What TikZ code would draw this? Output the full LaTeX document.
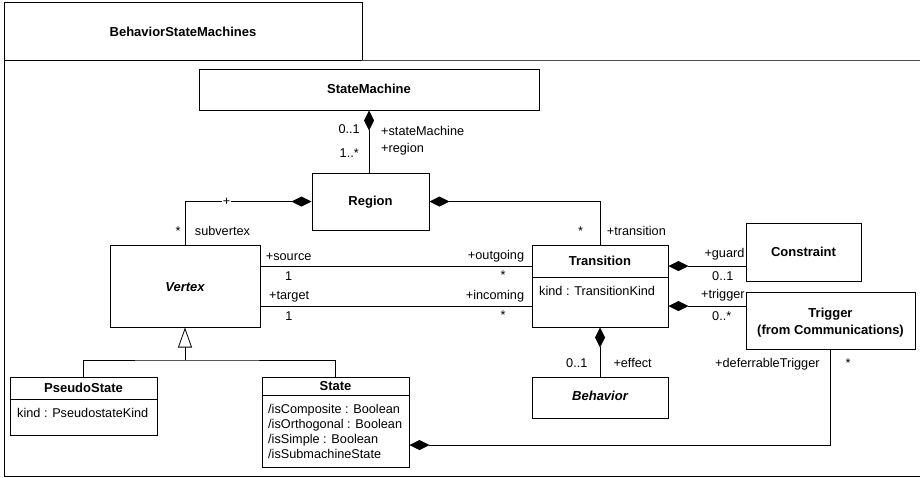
\documentclass[tikz,border=0pt]{standalone}
\usepackage{fontspec}
\setmainfont{Liberation Sans}
\usetikzlibrary{arrows.meta}

\tikzset{
  umlbox/.style={draw, line width=1pt, fill=white, inner sep=0pt, anchor=center},
  lbl/.style={font=\fontsize{12.7}{15}\selectfont, inner sep=0pt},
  ttl/.style={font=\bfseries\fontsize{13}{15}\selectfont, inner sep=0pt},
  ittl/.style={font=\bfseries\itshape\fontsize{13}{15}\selectfont, inner sep=0pt},
  conn/.style={line width=0.8pt},
  comp/.style={conn, {Diamond[length=20pt,width=10pt]}-},
  gen/.style={conn, -{Triangle[open,length=20pt,width=14pt,fill=white]}},
}

\begin{document}
\begin{tikzpicture}[x=1pt,y=-1pt]
\useasboundingbox (0,0) rectangle (920,477);
\fill[white] (0,0) rectangle (920,477);

% package frame with its name tab
\draw[line width=1pt] (4,2) rectangle (362,60);
\node[ttl, anchor=base] (pkgname) at (183,36) {BehaviorStateMachines};
\draw[line width=1pt, gray!60!black] (362,60) -- (920,60);
\draw[line width=1pt] (920,476) -- (4,476) -- (4,60);

% classes
\node[umlbox, minimum width=340, minimum height=41] (sm) at (369,89.5) {};
\node[ttl, anchor=base] (smname) at (369,93) {StateMachine};

\node[umlbox, minimum width=117, minimum height=57] (region) at (370.5,201.5) {};
\node[ttl, anchor=base] (regionname) at (370.5,205) {Region};

\node[umlbox, minimum width=150, minimum height=82] (vertex) at (185,286) {};
\node[ittl, anchor=base] (vertexname) at (185,291.5) {Vertex};

\node[umlbox, minimum width=136, minimum height=82] (transition) at (600,286) {};
\draw[line width=1pt] (transition.west |- 0,277.7) -- (transition.east |- 0,277.7);
\node[ttl, anchor=base] (transitionname) at (600,265.5) {Transition};
\node[lbl, anchor=base west] (transitionattr) at (539,295.5) {kind : TransitionKind};

\node[umlbox, minimum width=115, minimum height=58] (constraint) at (803.5,252) {};
\node[ttl, anchor=base] (constraintname) at (803.5,256) {Constraint};

\node[umlbox, minimum width=169, minimum height=57] (trigger) at (830.5,320.5) {};
\node[ttl, anchor=base] (triggername) at (830.5,317) {Trigger};
\node[ttl, anchor=base] (triggerpkg) at (830.5,334) {(from Communications)};

\node[umlbox, minimum width=136, minimum height=41] (behavior) at (600,397.5) {};
\node[ittl, anchor=base] (behaviorname) at (600,400.5) {Behavior};

\node[umlbox, minimum width=147, minimum height=58] (pseudo) at (83.5,406) {};
\draw[line width=1pt] (pseudo.west |- 0,399) -- (pseudo.east |- 0,399);
\node[ttl, anchor=base] (pseudoname) at (83.5,392.3) {PseudoState};
\node[lbl, anchor=base west] (pseudoattr) at (17,417.5) {kind : PseudostateKind};

\node[umlbox, minimum width=147, minimum height=90] (state) at (335.5,422) {};
\draw[line width=1pt] (state.west |- 0,395) -- (state.east |- 0,395);
\node[ttl, anchor=base] (statename) at (335.5,390) {State};
\node[lbl, anchor=base west] (stateattr1) at (268,413.3) {/isComposite : Boolean};
\node[lbl, anchor=base west] (stateattr2) at (268,428.3) {/isOrthogonal : Boolean};
\node[lbl, anchor=base west] (stateattr3) at (268,443.3) {/isSimple : Boolean};
\node[lbl, anchor=base west] (stateattr4) at (268,458.3) {/isSubmachineState};

% StateMachine -- Region
\draw[comp] (sm.south) -- (sm.south |- region.north);
\node[lbl, anchor=base east] (m1) at (360,133.5) {0..1};
\node[lbl, anchor=base east] (m2) at (359,157.5) {1..*};
\node[lbl, anchor=base west] (r1) at (381,135) {+stateMachine};
\node[lbl, anchor=base west] (r2) at (381,152.5) {+region};

% Region -- Vertex
\draw[comp] (region.west) -| (vertex.north);
\node[lbl, fill=white, inner sep=0.5pt] (plusmark) at (226.7,201.5) {+};
\node[lbl, anchor=base] (m3) at (178,235.3) {*};
\node[lbl, anchor=base west] (r3) at (194.7,235) {subvertex};

% Region -- Transition
\draw[comp] (region.east) -| (transition.north);
\node[lbl, anchor=base] (m4) at (580.7,235.3) {*};
\node[lbl, anchor=base west] (r4) at (606.7,235.5) {+transition};

% Vertex -- Transition (source / target)
\draw[conn] ([yshift=20pt]vertex.east) -- ([yshift=20pt]vertex.east -| transition.west);
\draw[conn] ([yshift=-20pt]vertex.east) -- ([yshift=-20pt]vertex.east -| transition.west);
\node[lbl, anchor=base west] (r5) at (265.7,260) {+source};
\node[lbl, anchor=base] (m5) at (288.7,280) {1};
\node[lbl, anchor=base west] (r6) at (269,299.5) {+target};
\node[lbl, anchor=base] (m6) at (289,320) {1};
\node[lbl, anchor=base east] (r7) at (524.3,259.5) {+outgoing};
\node[lbl, anchor=base] (m7) at (503,279) {*};
\node[lbl, anchor=base east] (r8) at (524.3,299) {+incoming};
\node[lbl, anchor=base] (m8) at (503,319) {*};

% Transition -- Constraint / Trigger
\draw[comp] ([yshift=20pt]transition.east) -- ([yshift=20pt]transition.east -| constraint.west);
\node[lbl, anchor=base west] (r9) at (704.3,257.5) {+guard};
\node[lbl, anchor=base west] (m9) at (712,280) {0..1};
\draw[comp] ([yshift=-20pt]transition.east) -- ([yshift=-20pt]transition.east -| trigger.west);
\node[lbl, anchor=base west] (r10) at (701,298.5) {+trigger};
\node[lbl, anchor=base west] (m10) at (712,320) {0..*};

% Transition -- Behavior
\draw[comp] (transition.south) -- (behavior.north);
\node[lbl, anchor=base west] (m11) at (566,367) {0..1};
\node[lbl, anchor=base west] (r11) at (613.3,367) {+effect};

% State -- Trigger (deferrable)
\draw[comp] ([yshift=-23pt]state.east) -| (trigger.south);
\node[lbl, anchor=base west] (r12) at (715,367) {+deferrableTrigger};
\node[lbl, anchor=base] (m12) at (848,367) {*};

% generalization tree
\coordinate (genjoin) at (185,360);
\draw[gen] (genjoin) -- (vertex.south);
\draw[conn] (pseudo.north) |- (genjoin) -| (state.north);
\end{tikzpicture}
\end{document}
